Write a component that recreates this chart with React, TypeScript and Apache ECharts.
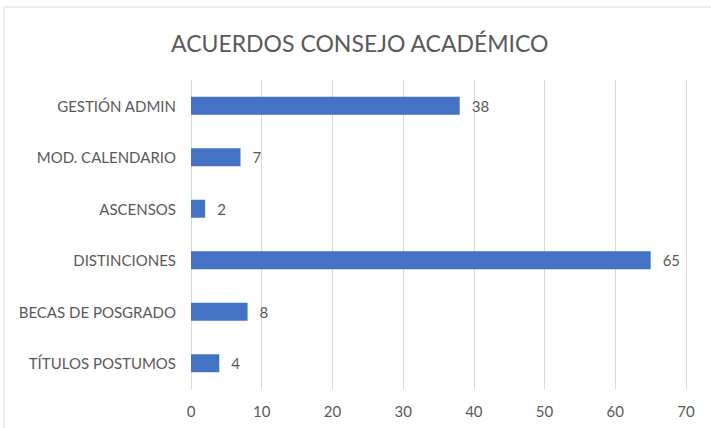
import React, { useEffect, useRef } from "react";
import * as echarts from "echarts";

const categories = [
  "TÍTULOS POSTUMOS",
  "BECAS DE POSGRADO",
  "DISTINCIONES",
  "ASCENSOS",
  "MOD. CALENDARIO",
  "GESTIÓN ADMIN",
];
const values = [4, 8, 65, 2, 7, 38];
const xTicks = { min: 0, max: 70, interval: 10 };
const titleText = "ACUERDOS CONSEJO ACADÉMICO";

const FONT = "Lato";
const GREY = "#595959";

export default function App() {
  const ref = useRef<HTMLDivElement>(null);
  useEffect(() => {
    document.body.style.margin = "0";
    const chart = echarts.init(ref.current!, null, { renderer: "svg" });
    chart.setOption({
      animation: false,
      backgroundColor: "#ffffff",
      textStyle: { fontFamily: FONT },
      title: {
        text: titleText,
        left: 166,
        top: 26,
        textStyle: { fontFamily: FONT, fontSize: 23, fontWeight: "normal", color: GREY },
      },
      graphic: [
        {
          type: "rect",
          shape: { x: 4, y: 7, width: 760, height: 480 },
          style: { fill: "none", stroke: "#d9d9d9", lineWidth: 1 },
          silent: true,
        },
      ],
      grid: { left: 191, right: 25, top: 80, bottom: 39, containLabel: false },
      xAxis: {
        type: "value",
        min: xTicks.min,
        max: xTicks.max,
        interval: xTicks.interval,
        axisLine: { show: false },
        axisTick: { show: false },
        splitLine: { show: true, lineStyle: { color: "#d9d9d9", width: 1 } },
        axisLabel: { color: GREY, fontSize: 15, fontFamily: FONT, margin: 14 },
      },
      yAxis: {
        type: "category",
        data: categories,
        axisLine: { show: true, lineStyle: { color: "#d9d9d9" } },
        axisTick: { show: false },
        axisLabel: { color: GREY, fontSize: 15, fontFamily: FONT, margin: 15 },
      },
      series: [
        {
          type: "bar",
          data: values,
          barWidth: 18,
          itemStyle: { color: "#4472c4" },
          label: {
            show: true,
            position: "right",
            distance: 12,
            color: GREY,
            fontSize: 15,
            fontFamily: FONT,
          },
        },
      ],
    });
    return () => chart.dispose();
  }, []);
  return <div ref={ref} style={{ width: 711, height: 428 }} />;
}
